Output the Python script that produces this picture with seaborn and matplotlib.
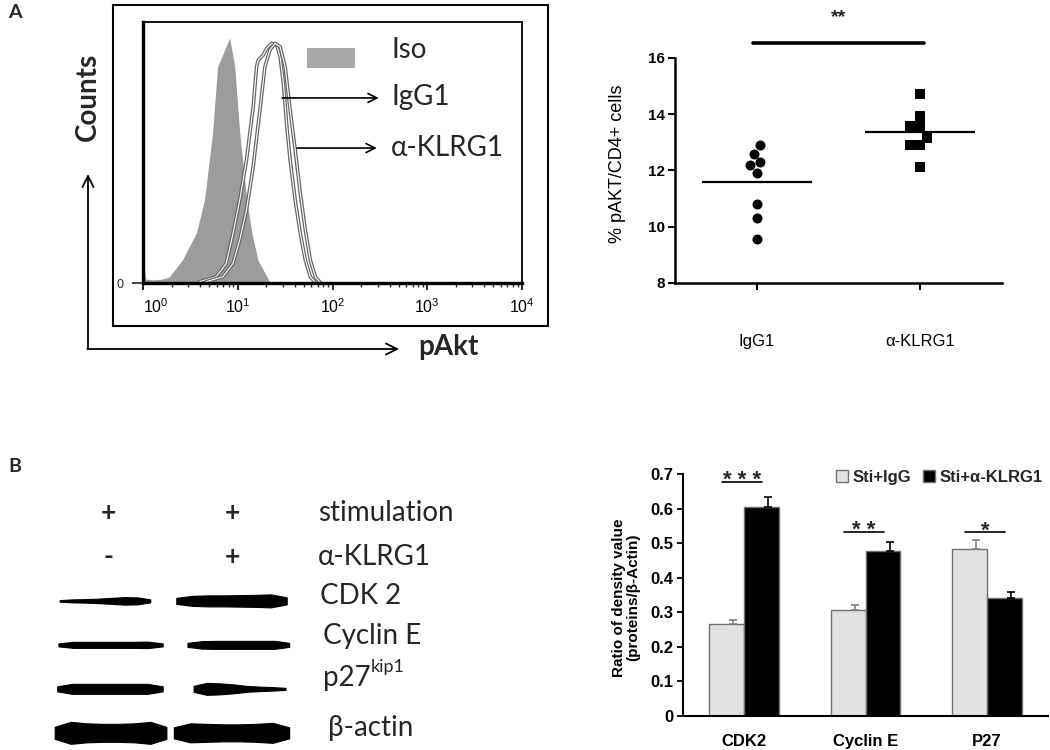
import numpy as np
import pandas as pd
import seaborn as sns
import matplotlib.pyplot as plt
from matplotlib.patches import Rectangle

sns.set_theme(style='white')
plt.rcParams['font.family'] = ['Liberation Sans', 'DejaVu Sans']
plt.rcParams['mathtext.fontset'] = 'custom'
plt.rcParams['mathtext.rm'] = 'Liberation Sans'
plt.rcParams['mathtext.it'] = 'Liberation Sans:italic'
plt.rcParams['mathtext.bf'] = 'Liberation Sans:bold'
CAL = ['Lato', 'DejaVu Sans']

# --- A left: flow histogram (log10 pAkt, % of max count)
iso_log = [0.0, 0.03, 0.1, 0.2, 0.277, 0.415, 0.564, 0.649, 0.734, 0.787, 0.915,
           0.968, 1.021, 1.096, 1.149, 1.213, 1.309, 1.34]
iso_cnt = [8, 1.5, 1.2, 1.5, 2.3, 8.8, 19.2, 31.8, 57.5, 82.8, 93.9,
           82.8, 57.5, 31.8, 19.2, 8.8, 2.3, 0]
igg_log = [0.596, 0.773, 0.879, 0.950, 1.021, 1.092, 1.163, 1.199, 1.216, 1.270, 1.305,
           1.358, 1.411, 1.447, 1.482, 1.518, 1.553, 1.606, 1.660, 1.713, 1.766, 1.819]
igg_cnt = [0.5, 2.4, 7.5, 19.0, 31.8, 47.1, 67.5, 82.9, 85.4, 87.4, 89.9,
           91.8, 91.2, 86.7, 76.5, 59.9, 47.1, 31.8, 19.0, 8.8, 2.4, 0.1]
klrg_log = [0.667, 0.844, 0.950, 1.021, 1.092, 1.163, 1.234, 1.287, 1.340, 1.394,
            1.447, 1.500, 1.553, 1.606, 1.660, 1.713, 1.766, 1.819, 1.872]
klrg_cnt = [0.5, 2.4, 7.5, 16.5, 28.0, 44.6, 66.3, 82.9, 89.3, 91.8,
            90.5, 82.9, 66.3, 51.0, 34.4, 20.3, 8.8, 2.4, 0.1]
decade_labels = ['$10^{0}$', '$10^{1}$', '$10^{2}$', '$10^{3}$', '$10^{4}$']

# --- A right: % pAKT/CD4+ cells
groups = ['IgG1', 'α-KLRG1']
igg1_pct = [12.9, 12.6, 12.3, 12.18, 11.91, 10.81, 10.31, 9.58]
klrg1_pct = [14.72, 13.93, 13.57, 13.57, 13.16, 12.9, 12.9, 12.11]

# --- B left: western blot
stim_marks = ['+', '+']
klrg_marks = ['-', '+']
blot_rows = ['CDK 2', 'Cyclin E', 'p27', 'β-actin']
# band extent (lane units) and thickness (px) along the band, lane 0 / lane 1
band_span = [[(-0.39, 0.34), (-0.45, 0.44)],
             [(-0.40, 0.44), (-0.36, 0.46)],
             [(-0.41, 0.44), (-0.31, 0.43)],
             [(-0.43, 0.47), (-0.47, 0.46)]]
band_thick = [[[1.5, 3, 3.5, 4.5, 6, 7.5, 7, 3], [6, 10, 11, 11, 11.5, 12, 13, 7]],
              [[3, 6, 6, 6, 6, 6, 6.5, 3], [4, 7.5, 8, 8, 8, 8, 8, 4]],
              [[5, 10, 10, 10, 10, 10, 10, 5], [6, 12, 11, 9, 6, 4.5, 3.5, 2]],
              [[12, 22, 19, 18, 18, 19, 22, 12], [11, 19, 18, 17, 17, 18, 20, 11]]]

# --- B right: density ratio
proteins = ['CDK2', 'Cyclin E', 'P27']
sti_igg = [0.265, 0.307, 0.483]
sti_igg_err = [0.012, 0.015, 0.027]
sti_klrg1 = [0.604, 0.478, 0.341]
sti_klrg1_err = [0.030, 0.025, 0.018]
sig_marks = ['* * *', '* *', '*']
sig_y = [0.677, 0.532, 0.532]

W, H = 1050, 750
fig = plt.figure(figsize=(10.5, 7.5), dpi=100)

# overlay for frame, arrows and panel letters (pixel coords)
ov = fig.add_axes([0, 0, 1, 1])
ov.set_xlim(0, W)
ov.set_ylim(H, 0)
ov.axis('off')
ov.add_patch(Rectangle((113, 5), 435, 321, fill=False, lw=1.5, color='black'))
arr = dict(arrowstyle='->', lw=1.3, color='black', mutation_scale=20, shrinkA=0, shrinkB=0)
ov.annotate('', xy=(88, 174), xytext=(88, 349), arrowprops=arr)
ov.annotate('', xy=(399, 349), xytext=(87.4, 349), arrowprops=arr)
ov.text(88, 97, 'Counts', rotation=90, ha='center', va='center', fontsize=20,
        weight='bold', family=CAL)
ov.text(418, 347, 'pAkt', ha='left', va='center', fontsize=20, weight='bold', family=CAL)
ov.text(15, 12, 'A', ha='center', va='center', fontsize=14, weight='bold', family=CAL)
ov.text(15, 467, 'B', ha='center', va='center', fontsize=14, weight='bold', family=CAL)

# ---------- histogram
ax1 = fig.add_axes([143 / W, 1 - 283 / H, 379 / W, 261 / H])
ax1.set_xscale('log')
ax1.fill_between(10 ** np.array(iso_log), iso_cnt, color='#9c9c9c', lw=0)
for lg, cnt in [(igg_log, igg_cnt), (klrg_log, klrg_cnt)]:
    x = 10 ** np.array(lg)
    sns.lineplot(x=x, y=cnt, color='#676767', lw=2.6, ax=ax1)
    sns.lineplot(x=x, y=cnt, color='white', lw=0.8, ax=ax1)
ax1.set_xlim(1, 1e4)
ax1.set_ylim(0, 100)
ax1.set_xticks([1, 10, 100, 1000, 10000])
ax1.set_xticklabels(decade_labels)
ax1.get_xticklabels()[0].set_ha('left')
ax1.set_yticks([0])
ax1.set_yticklabels(['0'])
ax1.tick_params(axis='x', which='major', direction='out', length=5, width=1.2,
                labelsize=11.5, pad=5, bottom=True, colors='black')
ax1.tick_params(axis='x', which='minor', direction='out', length=3, width=1, bottom=True)
ax1.tick_params(axis='y', direction='out', length=8, width=1.2, labelsize=9, pad=6, left=True)
for s in ['left', 'bottom']:
    ax1.spines[s].set_linewidth(2.4)
for s in ['top', 'right']:
    ax1.spines[s].set_linewidth(1.3)
for s in ax1.spines.values():
    s.set_color('black')
ax1.add_patch(Rectangle((0.433, 0.824), 0.127, 0.077, transform=ax1.transAxes,
                        color='#a8a8a8', lw=0))
harr = dict(arrowstyle='->', lw=1.2, color='black', mutation_scale=16, shrinkA=0, shrinkB=0)
ax1.annotate('', xy=(0.622, 0.709), xytext=(0.367, 0.709), xycoords='axes fraction', arrowprops=harr)
ax1.annotate('', xy=(0.617, 0.517), xytext=(0.406, 0.517), xycoords='axes fraction', arrowprops=harr)
for txt, ty in zip(['Iso', 'IgG1', 'α-KLRG1'], [0.893, 0.713, 0.517]):
    ax1.text(0.655, ty, txt, transform=ax1.transAxes, ha='left', va='center',
             fontsize=20, family=CAL)

# ---------- dot plot
ax2 = fig.add_axes([675 / W, 1 - 283 / H, 327 / W, 225 / H])
dot_df = pd.DataFrame({'group': ['IgG1'] * len(igg1_pct) + ['α-KLRG1'] * len(klrg1_pct),
                       'pct': igg1_pct + klrg1_pct})
sns.swarmplot(data=dot_df[dot_df.group == groups[0]], x='group', y='pct', order=groups,
              marker='o', color='black', size=7.2, ax=ax2)
sns.swarmplot(data=dot_df[dot_df.group == groups[1]], x='group', y='pct', order=groups,
              marker='s', color='black', size=6.8, ax=ax2)
means = dot_df.groupby('group')['pct'].mean()
for i, g in enumerate(groups):
    ax2.hlines(means[g], i - 0.335, i + 0.335, color='black', lw=1.6)
ax2.set_xlim(-0.5, 1.5)
ax2.set_ylim(8, 16)
ax2.set_yticks([8, 10, 12, 14, 16])
sns.despine(ax=ax2)
for s in ['left', 'bottom']:
    ax2.spines[s].set_linewidth(1.8)
    ax2.spines[s].set_color('black')
ax2.tick_params(axis='x', direction='out', length=5, width=1.5, labelsize=12, pad=32,
                bottom=True, colors='black')
ax2.tick_params(axis='y', direction='out', length=5, width=1.5, labelsize=11, pad=2,
                left=True, colors='black')
for lab in ax2.get_yticklabels():
    lab.set_fontweight('bold')
ax2.set_xlabel('')
ax2.set_ylabel('% pAKT/CD4+ cells', fontsize=13, color='black')
ax2.yaxis.set_label_coords(-0.15, 0.53)
ax2.plot([-0.025, 1.02], [16.53, 16.53], color='black', lw=2.6, clip_on=False)
ax2.text(0.5, 17.45, '**', ha='center', va='center', fontsize=14, weight='bold')

# ---------- western blot
ax3 = fig.add_axes([0, 0, 546 / W, 300 / H])
ax3.set_xlim(-0.871, 3.53)
ax3.set_ylim(5.39, -1.43)
ax3.axis('off')
sym_kw = dict(ha='center', va='center', fontsize=19, weight='bold', family=CAL)
for lane in range(2):
    ax3.text(lane, 0, stim_marks[lane], **sym_kw)
    ax3.text(lane, 1.0, klrg_marks[lane], **sym_kw)
for r, name in enumerate(blot_rows):
    row = r + 2
    for lane in range(2):
        a, b = band_span[r][lane]
        th = np.array(band_thick[r][lane]) / 44.0
        xs = np.linspace(lane + a, lane + b, len(th))
        ax3.fill_between(xs, row - th / 2, row + th / 2, color='black', lw=0.8,
                         edgecolor='black', joinstyle='round')
lab_kw = dict(ha='left', va='center', fontsize=20, family=CAL)
ax3.text(1.69, 0, 'stimulation', **lab_kw)
ax3.text(1.69, 1.0, 'α-KLRG1', **lab_kw)
ax3.text(1.71, 2 - 0.1, blot_rows[0], **lab_kw)
ax3.text(1.73, 3 - 0.2, blot_rows[1], **lab_kw)
t27 = ax3.text(1.73, 4 - 0.25, blot_rows[2], **lab_kw)
ax3.annotate('kip1', xy=(1.0, 0.62), xycoords=t27, ha='left', va='bottom',
             fontsize=13, family=CAL)
ax3.text(1.77, 5 - 0.12, blot_rows[3], **lab_kw)

# ---------- bar chart
ax4 = fig.add_axes([683 / W, 1 - 716 / H, 365 / W, 242 / H])
bar_df = pd.DataFrame({'protein': proteins * 2,
                       'group': ['Sti+IgG'] * 3 + ['Sti+α-KLRG1'] * 3,
                       'ratio': sti_igg + sti_klrg1})
sns.barplot(data=bar_df, x='protein', y='ratio', hue='group',
            palette=['#e2e2e2', '#000000'], width=0.575, edgecolor='#707070',
            linewidth=1, errorbar=None, ax=ax4)
for cont, err, ec in zip(ax4.containers, [sti_igg_err, sti_klrg1_err], ['#808080', 'black']):
    xs = [b.get_x() + b.get_width() / 2 + 0.055 for b in cont]
    ys = [b.get_height() for b in cont]
    ax4.errorbar(xs, ys, yerr=[np.zeros(len(err)), err], fmt='none', ecolor=ec,
                 elinewidth=1.2, capsize=3, capthick=1.2)
for j, mark in enumerate(sig_marks):
    ax4.plot([j - 0.18, j + 0.15], [sig_y[j], sig_y[j]], color='black', lw=1.2)
    ax4.text(j - 0.015, sig_y[j] - 0.012, mark, ha='center', va='baseline',
             fontsize=16, weight='bold')
ax4.set_xlim(-0.5, 2.5)
ax4.set_ylim(0, 0.7)
ax4.set_yticks(np.arange(0, 0.71, 0.1))
ax4.set_yticklabels(['0'] + ['%.1f' % v for v in np.arange(0.1, 0.71, 0.1)])
sns.despine(ax=ax4)
for s in ['left', 'bottom']:
    ax4.spines[s].set_linewidth(1.5)
    ax4.spines[s].set_color('black')
ax4.tick_params(axis='y', direction='out', length=4, width=1.3, labelsize=12, pad=3,
                left=True, colors='black')
ax4.tick_params(axis='x', length=0, labelsize=12, pad=13, colors='black')
for lab in ax4.get_yticklabels() + ax4.get_xticklabels():
    lab.set_fontweight('bold')
ax4.set_xlabel('')
ax4.set_ylabel('Ratio of density value\n(proteins/β-Actin)', fontsize=11,
               weight='bold', linespacing=1.0, color='black')
ax4.yaxis.set_label_coords(-0.118, 0.49)
ax4.legend(loc='center left', bbox_to_anchor=(0.40, 0.985), ncol=2, frameon=False,
           handlelength=0.75, handleheight=0.75, handletextpad=0.25, columnspacing=0.7,
           prop={'weight': 'bold', 'size': 12}, borderaxespad=0)

fig.savefig('out.png', dpi=100)
